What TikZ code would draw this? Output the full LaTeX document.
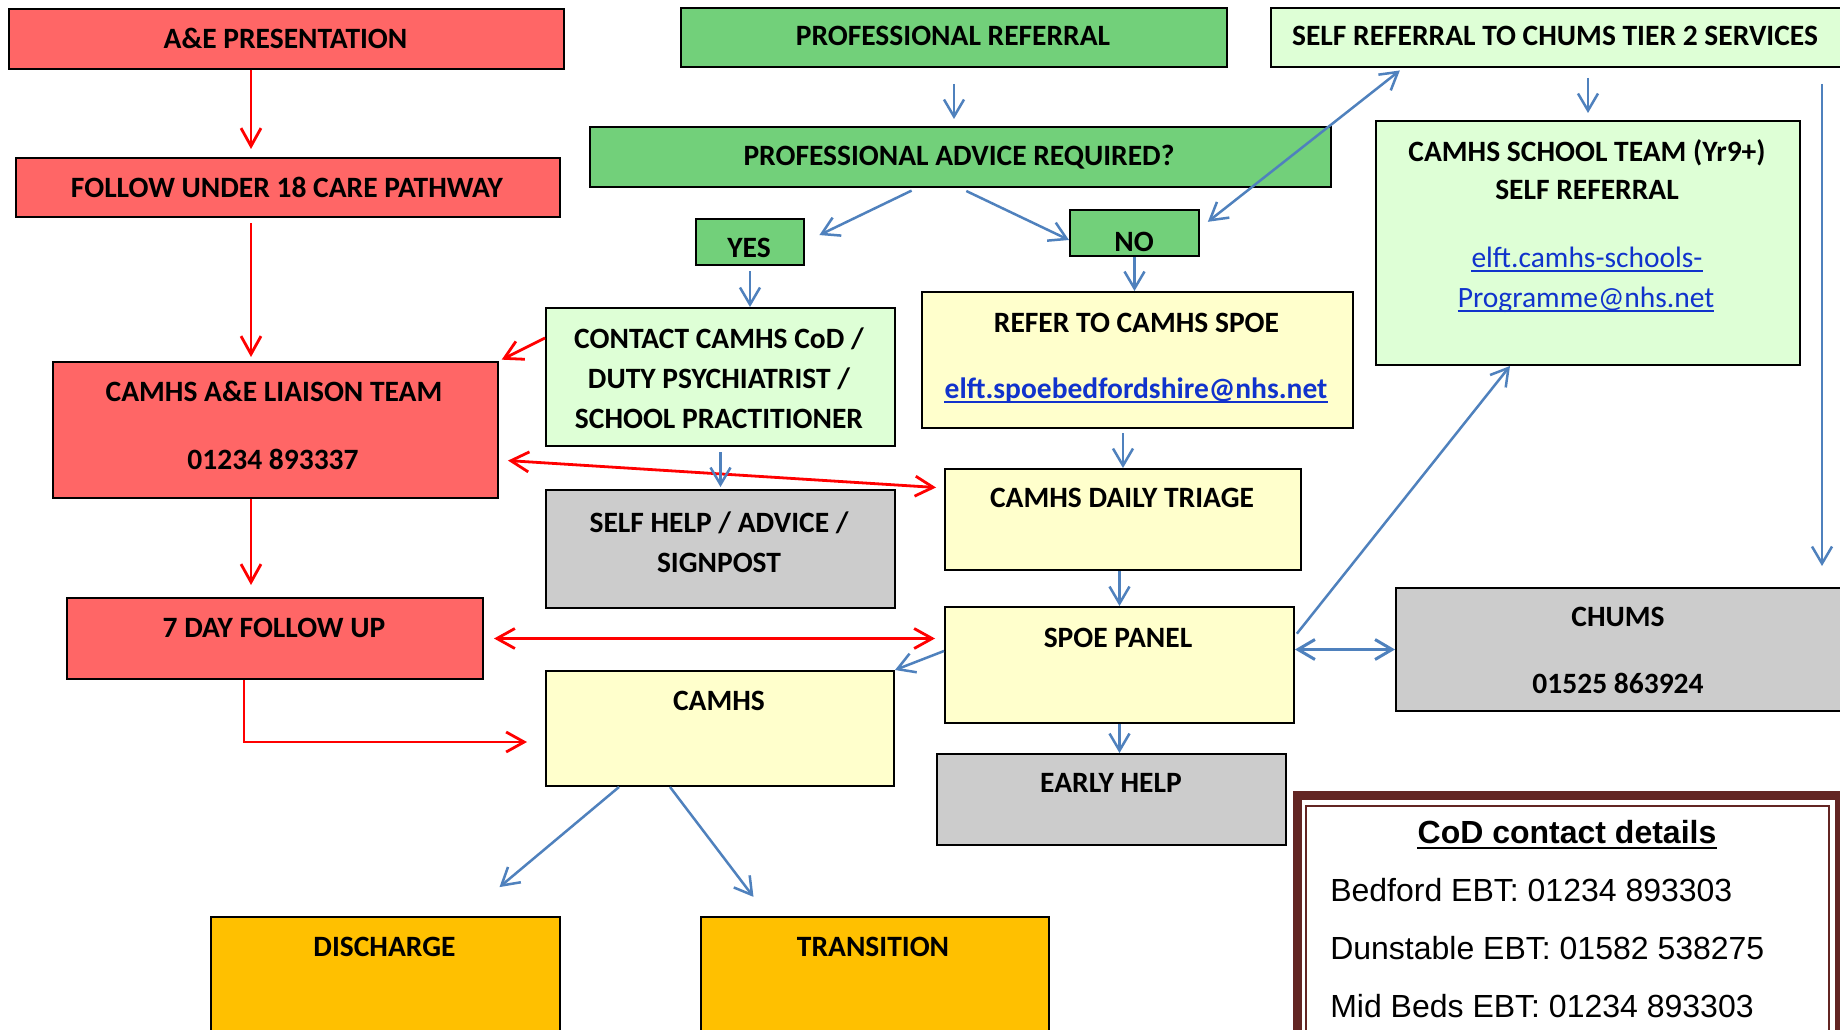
\documentclass[tikz,border=0pt]{standalone}
\usepackage{fontspec}
\usetikzlibrary{arrows.meta,calc}
\newfontfamily\cfont{Carlito}
\newfontfamily\afont{Liberation Sans}
\definecolor{aered}{RGB}{255,102,102}
\definecolor{advgreen}{RGB}{114,208,122}
\definecolor{palegreen}{RGB}{222,255,214}
\definecolor{paleyellow}{RGB}{255,255,204}
\definecolor{boxgray}{RGB}{204,204,204}
\definecolor{boxorange}{RGB}{255,192,0}
\definecolor{arrred}{RGB}{255,0,0}
\definecolor{arrblue}{RGB}{79,129,189}
\definecolor{linkblue}{RGB}{17,51,204}
\definecolor{codframe}{RGB}{99,37,35}

\tikzset{every picture/.style={line width=0.5pt}}
\tikzset{
  box/.style={draw=black, line width=2, inner sep=0pt, anchor=north west},
  redbox/.style={box, fill=aered},
  greenbox/.style={box, fill=advgreen},
  palebox/.style={box, fill=palegreen},
  yellowbox/.style={box, fill=paleyellow},
  graybox/.style={box, fill=boxgray},
  orangebox/.style={box, fill=boxorange},
  lbl/.style={font=\cfont\bfseries\fontsize{29.5}{35}\selectfont, anchor=base, inner sep=0pt},
  maillbl/.style={lbl, text=linkblue},
  codlbl/.style={font=\afont\fontsize{32}{38}\selectfont, anchor=base west, inner sep=0pt},
  uline/.style={line width=2},
  redarr/.style={draw=arrred, line width=2.8, -{Straight Barb[length=18pt,width=20pt]}},
  redboth/.style={redarr, {Straight Barb[length=18pt,width=20pt]}-{Straight Barb[length=18pt,width=20pt]}},
  bluearr/.style={draw=arrblue, line width=2.5, -{Straight Barb[length=17pt,width=20pt]}},
  blueboth/.style={bluearr, {Straight Barb[length=17pt,width=20pt]}-{Straight Barb[length=17pt,width=20pt]}}
}

\begin{document}
\begin{tikzpicture}[x=1pt,y=1pt,yscale=-1,xscale=1]
    \useasboundingbox (0,0) rectangle (1840,1030);
    \fill[white] (0,0) rectangle (1840,1030);

    %Shape: Rectangle (A&E side)
    \node[redbox, minimum width=555pt, minimum height=60pt] (aepres) at (8,8) {};
    \node[redbox, minimum width=544pt, minimum height=59pt] (pathway) at (15,157) {};
    \node[redbox, minimum width=445pt, minimum height=136pt] (liaison) at (52,361) {};
    \node[redbox, minimum width=416pt, minimum height=81pt] (followup) at (66,597) {};
    %Shape: Rectangle (professional side)
    \node[greenbox, minimum width=546pt, minimum height=59pt] (profref) at (680,7) {};
    \node[greenbox, minimum width=741pt, minimum height=60pt] (advice) at (589,126) {};
    \node[greenbox, minimum width=108pt, minimum height=46pt] (yes) at (695,218) {};
    \node[greenbox, minimum width=129pt, minimum height=46pt] (no) at (1069,209) {};
    \node[palebox, minimum width=349pt, minimum height=138pt] (contact) at (545,307) {};
    \node[graybox, minimum width=349pt, minimum height=118pt] (selfhelp) at (545,489) {};
    \node[yellowbox, minimum width=348pt, minimum height=115pt] (camhs) at (545,670) {};
    \node[orangebox, minimum width=349pt, minimum height=130pt] (discharge) at (210,916) {};
    \node[orangebox, minimum width=348pt, minimum height=130pt] (transition) at (700,916) {};
    %Shape: Rectangle (SPOE)
    \node[yellowbox, minimum width=431pt, minimum height=136pt] (refer) at (921,291) {};
    \node[yellowbox, minimum width=356pt, minimum height=101pt] (triage) at (944,468) {};
    \node[yellowbox, minimum width=349pt, minimum height=116pt] (spoe) at (944,606) {};
    \node[graybox, minimum width=349pt, minimum height=91pt] (earlyhelp) at (936,753) {};
    %Shape: Rectangle (self referral)
    \node[palebox, minimum width=580pt, minimum height=59pt] (selfref) at (1270,7) {};
    \node[palebox, minimum width=424pt, minimum height=244pt] (school) at (1375,120) {};
    \node[graybox, minimum width=455pt, minimum height=123pt] (chums) at (1395,587) {};
    %Shape: Frame (CoD)
    \draw[draw=codframe, line width=9, fill=white] (1297.5,795.5) rectangle (1839.5,1045);
    \draw[draw=codframe, line width=1.5] (1306,806) rectangle (1829,1045);

    % Text Node
    \node[lbl] (aepres-t) at (285.5,49) {A\&E PRESENTATION};
    \node[lbl] (pathway-t) at (287,197) {FOLLOW UNDER 18 CARE PATHWAY};
    \node[lbl] (liaison-t) at (274,401) {CAMHS A\&E LIAISON TEAM};
    \node[lbl] (liaison-n) at (273,469) {01234 893337};
    \node[lbl] (followup-t) at (274,637) {7 DAY FOLLOW UP};
    % Text Node
    \node[lbl] (profref-t) at (953,46) {PROFESSIONAL REFERRAL};
    \node[lbl] (advice-t) at (959,166) {PROFESSIONAL ADVICE REQUIRED?};
    \node[lbl] (yes-t) at (749,257) {YES};
    \node[lbl] (no-t) at (1134,251) {NO};
    \node[lbl] (contact-a) at (719,348) {CONTACT CAMHS CoD /};
    \node[lbl] (contact-b) at (719,388) {DUTY PSYCHIATRIST /};
    \node[lbl] (contact-c) at (719,428) {SCHOOL PRACTITIONER};
    \node[lbl] (selfhelp-a) at (719,532) {SELF HELP / ADVICE /};
    \node[lbl] (selfhelp-b) at (719,572) {SIGNPOST};
    \node[lbl] (camhs-t) at (719,710) {CAMHS};
    \node[lbl] (discharge-t) at (384.5,956) {DISCHARGE};
    \node[lbl] (transition-t) at (873,956) {TRANSITION};
    % Text Node
    \node[lbl] (refer-t) at (1136.5,332) {REFER TO CAMHS SPOE};
    \node[maillbl] (refer-mail) at (1136,398) {elft.spoebedfordshire@nhs.net};
    \node[lbl] (triage-t) at (1122,507) {CAMHS DAILY TRIAGE};
    \node[lbl] (spoe-t) at (1118,647) {SPOE PANEL};
    \node[lbl] (earlyhelp-t) at (1111,792) {EARLY HELP};
    % Text Node
    \node[lbl] (selfref-t) at (1555,46) {SELF REFERRAL TO CHUMS TIER 2 SERVICES};
    \node[lbl] (school-a) at (1587,161) {CAMHS SCHOOL TEAM (Yr9+)};
    \node[lbl] (school-b) at (1587,199) {SELF REFERRAL};
    \node[maillbl, font=\cfont\fontsize{29.5}{35}\selectfont] (school-mail-a) at (1587,267) {elft.camhs-schools-};
    \node[maillbl, font=\cfont\fontsize{29.5}{35}\selectfont] (school-mail-b) at (1586,307) {Programme@nhs.net};
    \node[lbl] (chums-t) at (1618,626) {CHUMS};
    \node[lbl] (chums-n) at (1618,693) {01525 863924};
    % Text Node
    \node[lbl, font=\afont\bfseries\fontsize{32}{38}\selectfont] (cod-t) at (1567,843) {CoD contact details};
    \node[codlbl] (cod-a) at (1330,901) {Bedford EBT: 01234 893303};
    \node[codlbl] (cod-b) at (1330,959) {Dunstable EBT: 01582 538275};
    \node[codlbl] (cod-c) at (1330,1017) {Mid Beds EBT: 01234 893303};

    %Underlines
    \draw[uline, linkblue] ($(refer-mail.base west)+(0,3.5)$) -- ($(refer-mail.base east)+(0,3.5)$);
    \draw[uline, linkblue] ($(school-mail-a.base west)+(0,3.5)$) -- ($(school-mail-a.base east)+(0,3.5)$);
    \draw[uline, linkblue] ($(school-mail-b.base west)+(0,3.5)$) -- ($(school-mail-b.base east)+(0,3.5)$);
    \draw[uline, line width=2.5] ($(cod-t.base west)+(0,5)$) -- ($(cod-t.base east)+(0,5)$);

    %Connector: red
    \draw[redarr, shorten >=8] (aepres.south -| 251,0) -- (pathway.north -| 251,0);
    \draw[redarr, shorten <=5, shorten >=4] (pathway.south -| 251,0) -- (liaison.north -| 251,0);
    \draw[redarr, shorten >=12] (liaison.south -| 251,0) -- (followup.north -| 251,0);
    \draw[redarr, shorten >=3] (contact.west |- 0,338) -- (liaison.north east);
    \draw[redboth, shorten <=9, shorten >=8] (liaison.east |- 0,460) -- (triage.west |- 0,488);
    \draw[redboth, shorten <=10, shorten >=9] (followup.east) -- (spoe.west |- followup.east);
    \draw[redarr, shorten >=18] (followup.south -| 244,0) |- (camhs.west |- 0,742);

    %Connector: blue
    \draw[bluearr, shorten <=16, shorten >=7] (profref.south) -- (profref.south |- advice.north);
    \draw[bluearr, shorten <=6, shorten >=16] (advice.south -| 917,0) -- (yes.east);
    \draw[bluearr, shorten <=7] (advice.south -| 960,0) -- (no.west |- 0,240);
    \draw[blueboth, shorten <=10, shorten >=4] (no.east |- 0,228) -- (selfref.south -| 1403,0);
    \draw[bluearr] (no.south) -- (no.south |- refer.north);
    \draw[bluearr, shorten <=5] (yes.south) -- (yes.south |- contact.north);
    \draw[bluearr, shorten <=5, shorten >=2] (contact.south) -- (contact.south |- selfhelp.north);
    \draw[bluearr, shorten <=4] (triage.north |- refer.south) -- (triage.north);
    \draw[bluearr] (spoe.north |- triage.south) -- (spoe.north);
    \draw[bluearr] (spoe.south) -- (spoe.south |- earlyhelp.north);
    \draw[bluearr] (spoe.west |- 0,651) -- (camhs.north east);
    \draw[bluearr, shorten <=3] (spoe.east |- 0,636) -- (school.south -| 1510,0);
    \draw[blueboth, line width=3] (spoe.east |- chums.west) -- (chums.west);
    \draw[bluearr, shorten <=10, shorten >=7] (school.north |- selfref.south) -- (school.north);
    \draw[bluearr, shorten <=16, shorten >=21] (selfref.south -| 1822,0) -- (chums.north -| 1822,0);
    \draw[bluearr, shorten >=45] (camhs.south -| 619,0) -- (discharge.north -| 465,0);
    \draw[bluearr, shorten >=24] (camhs.south -| 670,0) -- (transition.north -| 768,0);
\end{tikzpicture}
\end{document}
